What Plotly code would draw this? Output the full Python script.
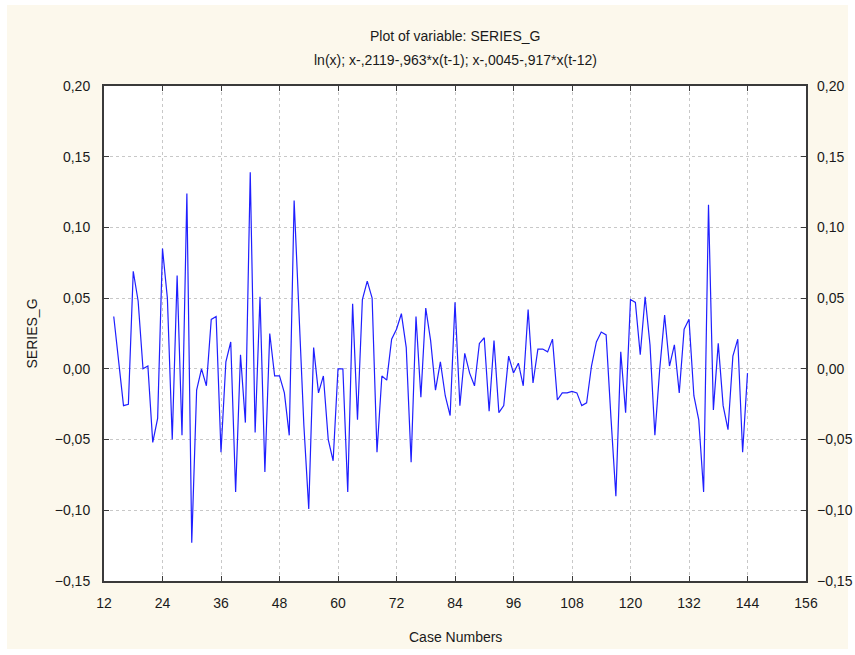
import plotly.graph_objects as go

# Differenced log series, one value per case number (cases 14..144)
series_g = [
    0.037, 0.006, -0.026, -0.025, 0.069, 0.048, 0.000, 0.002, -0.052, -0.035,
    0.085, 0.050, -0.050, 0.066, -0.047, 0.124, -0.123, -0.015, 0.000, -0.012,
    0.035, 0.037, -0.059, 0.005, 0.019, -0.087, 0.010, -0.038, 0.139, -0.045,
    0.051, -0.073, 0.025, -0.005, -0.005, -0.017, -0.047, 0.119, 0.045, -0.040,
    -0.099, 0.015, -0.017, -0.005, -0.050, -0.065, 0.000, 0.000, -0.087, 0.046,
    -0.036, 0.049, 0.062, 0.050, -0.059, -0.005, -0.008, 0.021, 0.028, 0.039,
    0.015, -0.066, 0.037, -0.020, 0.043, 0.020, -0.015, 0.005, -0.019, -0.033,
    0.047, -0.026, 0.011, -0.003, -0.012, 0.018, 0.022, -0.030, 0.020, -0.031,
    -0.026, 0.009, -0.003, 0.004, -0.012, 0.042, -0.010, 0.014, 0.014, 0.012,
    0.021, -0.022, -0.017, -0.017, -0.016, -0.017, -0.026, -0.024, 0.002, 0.019,
    0.026, 0.024, -0.035, -0.090, 0.012, -0.031, 0.049, 0.047, 0.010, 0.051,
    0.017, -0.047, 0.000, 0.038, 0.002, 0.017, -0.017, 0.028, 0.035, -0.019,
    -0.036, -0.087, 0.116, -0.029, 0.018, -0.026, -0.043, 0.009, 0.021, -0.059,
    -0.003,
]
first_case = 14
case_numbers = list(range(first_case, first_case + len(series_g)))

x_ticks = list(range(12, 157, 12))
y_ticks = [-0.15, -0.10, -0.05, 0.00, 0.05, 0.10, 0.15, 0.20]

title_text = "Plot of variable: SERIES_G"
subtitle_text = "ln(x); x-,2119-,963*x(t-1); x-,0045-,917*x(t-12)"

FONT = "Liberation Sans, Arial, sans-serif"
TXT = "#1a1a1a"
CREAM = "#fcf8ec"
FRAME = "#3a3a3a"
GRID = "#c8c8c8"

fig = go.Figure()
fig.add_trace(go.Scatter(
    x=case_numbers, y=series_g, mode="lines",
    line=dict(color="#1f1fff", width=1.2),
    showlegend=False, hoverinfo="x+y",
))
# same series on the right-hand axis so its labels are drawn
fig.add_trace(go.Scatter(
    x=case_numbers, y=series_g, mode="lines", yaxis="y2",
    line=dict(color="rgba(0,0,0,0)", width=0),
    showlegend=False, hoverinfo="skip",
))

axis_common = dict(
    showline=True, linecolor=FRAME, linewidth=2,
    ticks="inside", ticklen=5, tickcolor=FRAME, tickwidth=1,
    showgrid=True, gridcolor=GRID, gridwidth=1, griddash="dot",
    zeroline=False, automargin=False,
    tickfont=dict(family=FONT, size=14, color=TXT),
)

fig.update_layout(
    width=855, height=655,
    margin=dict(l=104, r=49, t=86, b=74, autoexpand=False),
    paper_bgcolor="white",
    plot_bgcolor="white",
    separators=", ",
    font=dict(family=FONT, color=TXT),
    xaxis=dict(
        range=[12, 156], tickmode="array", tickvals=x_ticks,
        mirror="ticks", ticklabelstandoff=8, **axis_common,
    ),
    yaxis=dict(
        range=[-0.15, 0.20], tickmode="array", tickvals=y_ticks,
        tickformat=".2f", mirror="ticks", ticklabelstandoff=9,
        **axis_common,
    ),
    yaxis2=dict(
        range=[-0.15, 0.20], tickmode="array", tickvals=y_ticks,
        tickformat=".2f", overlaying="y", side="right",
        showgrid=False, zeroline=False, showline=False, ticks="",
        ticklabelstandoff=10, automargin=False,
        tickfont=dict(family=FONT, size=14, color=TXT),
    ),
    shapes=[
        # cream panel behind the whole chart
        dict(type="rect", xref="paper", yref="paper", layer="below",
             x0=(7 - 104) / 702, x1=(848 - 104) / 702,
             y0=(581 - 649) / 495, y1=(581 - 5) / 495,
             fillcolor=CREAM, line=dict(width=0)),
        # white plotting area
        dict(type="rect", xref="paper", yref="paper", layer="below",
             x0=0, x1=1, y0=0, y1=1,
             fillcolor="white", line=dict(width=0)),
    ],
    annotations=[
        dict(text=title_text, xref="paper", yref="paper", x=0.5,
             y=(581 - 36) / 495, showarrow=False, xanchor="center",
             yanchor="middle", font=dict(family=FONT, size=14, color=TXT)),
        dict(text=subtitle_text, xref="paper", yref="paper", x=0.5,
             y=(581 - 60) / 495, showarrow=False, xanchor="center",
             yanchor="middle", font=dict(family=FONT, size=14, color=TXT)),
        dict(text="Case Numbers", xref="paper", yref="paper", x=0.5,
             y=(581 - 637) / 495, showarrow=False, xanchor="center",
             yanchor="middle", font=dict(family=FONT, size=14, color=TXT)),
        dict(text="SERIES_G", xref="paper", yref="paper",
             x=(31 - 104) / 702, y=0.5, textangle=-90, showarrow=False,
             xanchor="center", yanchor="middle",
             font=dict(family=FONT, size=14, color=TXT)),
    ],
)

fig.write_html("out.html")
